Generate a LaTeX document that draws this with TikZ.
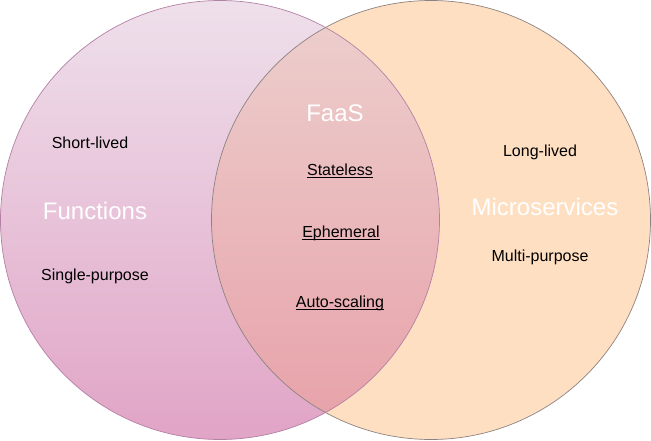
\documentclass[tikz,border=0pt]{standalone}
\usepackage{fontspec}
\setmainfont{Liberation Sans}
\definecolor{fnTop}{RGB}{238,224,235}
\definecolor{fnBot}{RGB}{225,164,198}
\definecolor{msFill}{RGB}{255,223,193}
\definecolor{ovTop}{RGB}{237,208,206}
\definecolor{ovBot}{RGB}{231,160,168}
\definecolor{fnLine}{RGB}{180,128,164}
\definecolor{msLine}{RGB}{140,130,130}
\begin{document}
\begin{tikzpicture}[x=1pt,y=-1pt,
  lbl/.style={font=\fontsize{16}{19}\selectfont, text=black, inner sep=0pt, anchor=base},
  big/.style={font=\fontsize{24}{28}\selectfont, text=white, inner sep=0pt, anchor=base},
  uline/.style={line width=0.9pt, black}]
\useasboundingbox (0,0) rectangle (651,440);
\def\rr{219.5}
% set circles
\coordinate (fc) at (220,220);
\coordinate (mc) at (431,220);
\shade[top color=fnTop, bottom color=fnBot] (fc) circle[radius=\rr];
\fill[msFill] (mc) circle[radius=\rr];
\begin{scope}
  \clip (fc) circle[radius=\rr];
  \shade[top color=ovTop, bottom color=ovBot] (mc) circle[radius=\rr];
\end{scope}
\draw[line width=0.7pt, fnLine] (fc) circle[radius=\rr];
\draw[line width=0.7pt, msLine] (mc) circle[radius=\rr];
% titles
\node[big] (fn) at (95,219.5) {Functions};
\node[big] (faas) at (335,121.5) {FaaS};
\node[big] (ms) at (545,215) {Microservices};
% left labels
\node[lbl] (sl) at (90,148) {Short-lived};
\node[lbl] (sp) at (95,280) {Single-purpose};
% right labels
\node[lbl] (ll) at (540,156) {Long-lived};
\node[lbl] (mp) at (540,261) {Multi-purpose};
% shared labels, underlined
\node[lbl] (st) at (340,175) {Stateless};
\node[lbl] (ep) at (341,237) {Ephemeral};
\node[lbl] (as) at (340,307) {Auto-scaling};
\foreach \n in {st,ep,as}
  \draw[uline] ([yshift=-2pt]\n.base west) -- ([yshift=-2pt]\n.base east);
\end{tikzpicture}
\end{document}
